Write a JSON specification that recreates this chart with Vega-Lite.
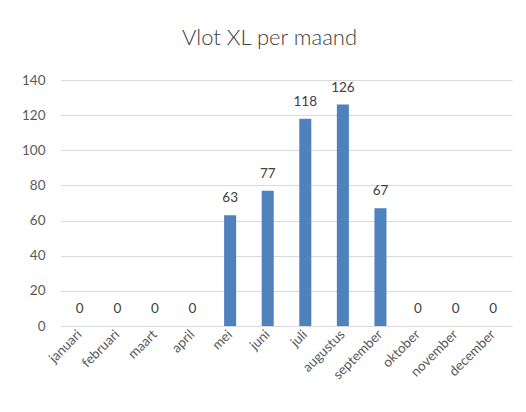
{
  "$schema": "https://vega.github.io/schema/vega-lite/v6.json",
  "width": 451,
  "height": 246,
  "autosize": {"type": "none"},
  "padding": {"left": 61, "top": 80, "right": 14, "bottom": 86},
  "background": "white",
  "title": {
    "text": "Vlot XL per maand",
    "anchor": "middle",
    "dx": -17,
    "offset": 23,
    "fontSize": 22,
    "font": "Lato",
    "fontWeight": 300,
    "color": "#404040"
  },
  "config": {
    "view": {"stroke": null},
    "font": "Lato"
  },
  "data": {
    "values": [
      {"maand": "januari", "aantal": 0},
      {"maand": "februari", "aantal": 0},
      {"maand": "maart", "aantal": 0},
      {"maand": "april", "aantal": 0},
      {"maand": "mei", "aantal": 63},
      {"maand": "juni", "aantal": 77},
      {"maand": "juli", "aantal": 118},
      {"maand": "augustus", "aantal": 126},
      {"maand": "september", "aantal": 67},
      {"maand": "oktober", "aantal": 0},
      {"maand": "november", "aantal": 0},
      {"maand": "december", "aantal": 0}
    ]
  },
  "encoding": {
    "x": {
      "field": "maand",
      "type": "nominal",
      "sort": null,
      "scale": {"paddingInner": 0.68, "paddingOuter": 0.34},
      "axis": {
        "title": null,
        "labelAngle": -45,
        "labelAlign": "right",
        "labelBaseline": "middle",
        "labelFontSize": 13.5,
        "labelColor": "#595959",
        "labelPadding": 6,
        "ticks": false,
        "domain": true,
        "domainColor": "#d9d9d9",
        "labelFont": "Lato"
      }
    },
    "y": {
      "field": "aantal",
      "type": "quantitative",
      "scale": {"domain": [0, 140]},
      "axis": {
        "title": null,
        "values": [0, 20, 40, 60, 80, 100, 120, 140],
        "domain": false,
        "ticks": false,
        "labelPadding": 16,
        "labelFontSize": 13.5,
        "labelColor": "#595959",
        "gridColor": "#d9d9d9",
        "labelFont": "Lato"
      }
    }
  },
  "layer": [
    {"mark": {"type": "bar", "color": "#4F81BD"}},
    {
      "mark": {
        "type": "text",
        "baseline": "alphabetic",
        "dy": -13,
        "fontSize": 13.5,
        "color": "#404040",
        "font": "Lato"
      },
      "encoding": {"text": {"field": "aantal", "type": "quantitative"}}
    }
  ]
}
